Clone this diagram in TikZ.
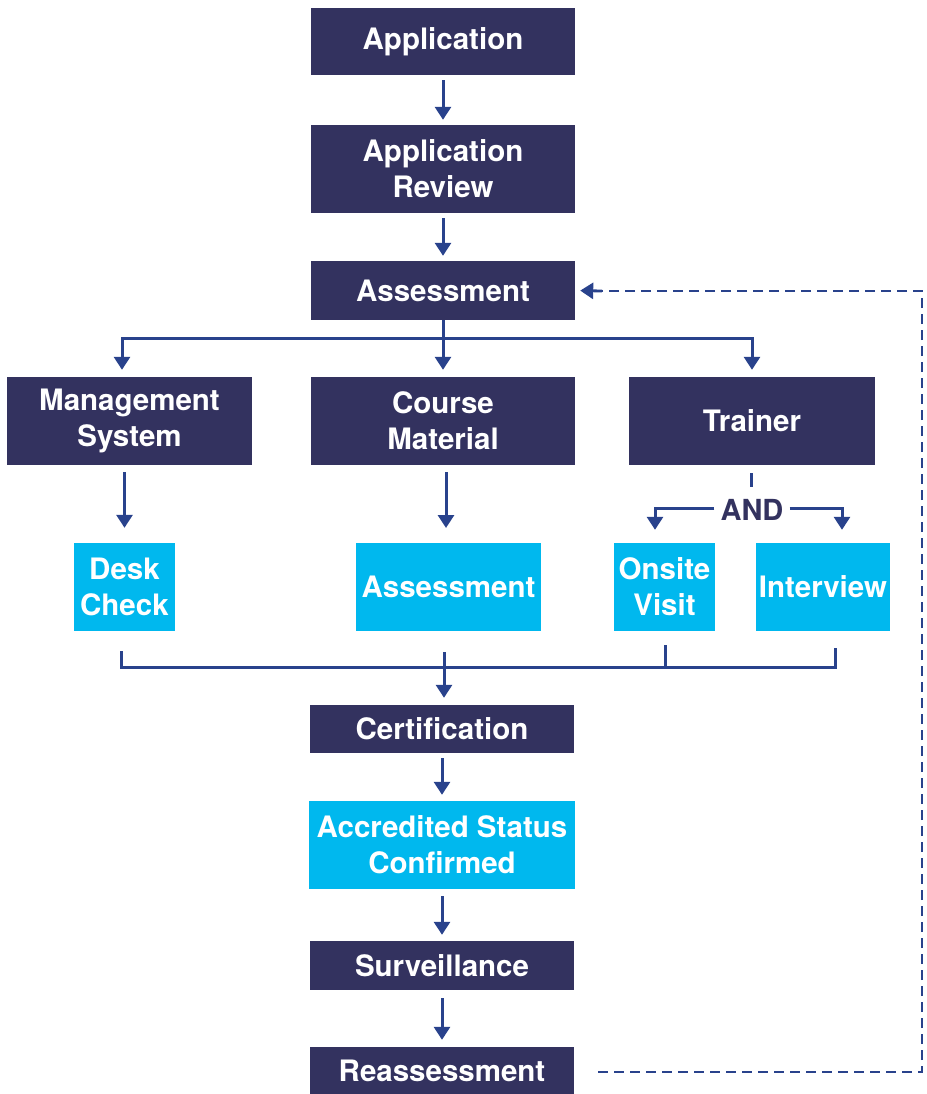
\documentclass[tikz,border=0pt]{standalone}
\usepackage{fontspec}
\setmainfont{TeX Gyre Heros}
\usetikzlibrary{arrows.meta,calc}
\definecolor{navy}{HTML}{33325F}
\definecolor{cyanbox}{HTML}{00B8EE}
\definecolor{arrblue}{HTML}{29428C}
\tikzset{
  dbox/.style={fill=navy,text=white,inner sep=0pt,align=center,font=\fontsize{29.5}{36}\selectfont\bfseries},
  cbox/.style={fill=cyanbox,text=white,inner sep=0pt,align=center,font=\fontsize{29.5}{36}\selectfont\bfseries},
  conn/.style={draw=arrblue,line width=3pt},
  arr/.style={conn,-{Triangle[width=16pt,length=13pt]}},
  dashconn/.style={draw=arrblue,line width=2.8pt,dash pattern=on 10pt off 6pt},
}
\begin{document}
\begin{tikzpicture}[x=1pt,y=-1pt]
\useasboundingbox (0,0) rectangle (926,1094);
% main column
\node[dbox,minimum width=264pt,minimum height=67pt] (app) at (443,41.5) {Application};
\node[dbox,minimum width=264pt,minimum height=88pt] (rev) at (443,169) {Application\\Review};
\node[dbox,minimum width=264pt,minimum height=59pt] (ass) at (443,290.5) {Assessment};
\node[dbox,minimum width=245pt,minimum height=88pt] (mgmt) at (129.5,421) {Management\\System};
\node[dbox,minimum width=264pt,minimum height=88pt] (course) at (443,421) {Course\\Material};
\node[dbox,minimum width=246pt,minimum height=88pt] (trainer) at (752,421) {Trainer};
\node[cbox,minimum width=101pt,minimum height=88pt] (desk) at (124.5,587) {Desk\\Check};
\node[cbox,minimum width=185pt,minimum height=88pt] (cass) at (448.5,587) {Assessment};
\node[cbox,minimum width=101pt,minimum height=88pt] (onsite) at (664.5,587) {Onsite\\Visit};
\node[cbox,minimum width=134pt,minimum height=88pt] (interview) at (823,587) {Interview};
\node[dbox,minimum width=264pt,minimum height=48pt] (cert) at (442,729) {Certification};
\node[cbox,minimum width=266pt,minimum height=88pt] (acc) at (442,845) {Accredited Status\\Confirmed};
\node[dbox,minimum width=264pt,minimum height=49pt] (surv) at (442,965.5) {Surveillance};
\node[dbox,minimum width=264pt,minimum height=47pt] (reass) at (442,1070.5) {Reassessment};
\node[text=navy,inner sep=0pt,font=\fontsize{29}{32}\selectfont\bfseries] (and) at (752,510) {AND};

% straight arrows
\draw[arr,shorten <=5pt,shorten >=5pt] (app) -- (rev);
\draw[arr,shorten <=5pt,shorten >=5pt] (rev) -- (ass);
\draw[arr,shorten <=5pt,shorten >=6pt] (cert) -- (acc);
\draw[arr,shorten <=7pt,shorten >=6pt] (acc) -- (surv);
\draw[arr,shorten <=8pt,shorten >=7pt] (surv) -- (reass);

% branch from assessment
\coordinate (busL) at (122,338);
\coordinate (busR) at (752,338);
\coordinate (busC) at (443,338);
\draw[conn] (ass.south) -- (busC);
\draw[conn,line cap=rect] (busL) -- (busR);
\draw[arr,shorten >=7pt] (busL) -- (busL |- mgmt.north);
\draw[arr,shorten >=7pt] (busC) -- (course.north);
\draw[arr,shorten >=7pt] (busR) -- (trainer.north);

% second level
\coordinate (c1) at (446,465);
\coordinate (c2) at (446,543);
\draw[arr,shorten <=7pt,shorten >=15pt] (desk.north |- mgmt.south) -- (desk.north);
\draw[arr,shorten <=7pt,shorten >=15pt] (c1) -- (c2);

% trainer AND split
\draw[conn] ($(trainer.south)+(-1,8)$) -- ($(trainer.south)+(-1,22)$);
\coordinate (andL) at (655,508);
\coordinate (andR) at (842,508);
\draw[arr,shorten >=13pt] ($(and.west)+(-6,-2)$) -- (andL) -- (andL |- onsite.north);
\draw[arr,shorten >=13pt] ($(and.east)+(6,-2)$) -- (andR) -- (andR |- interview.north);

% merge to certification
\coordinate (m1) at (121,651);
\coordinate (m2) at (665,645);
\coordinate (m3) at (835,648);
\coordinate (mb) at (121,667);
\coordinate (mc) at (444,652);
\draw[conn] (m1) -- (mb) -- (m3 |- mb) -- (m3);
\draw[conn] (m2) -- (m2 |- mb);
\draw[arr,shorten >=7pt] (mc) -- (mc |- cert.north);

% dashed feedback
\coordinate (d1) at (598,1072);
\coordinate (d2) at (922,1072);
\coordinate (d3) at (922,291);
\coordinate (d4) at (602,291);
\draw[dashconn] (d1) -- (d2) -- (d3) -- (d4);
\draw[arr,line width=2.8pt,shorten >=5pt] (d4) -- (ass.east);
\end{tikzpicture}
\end{document}
